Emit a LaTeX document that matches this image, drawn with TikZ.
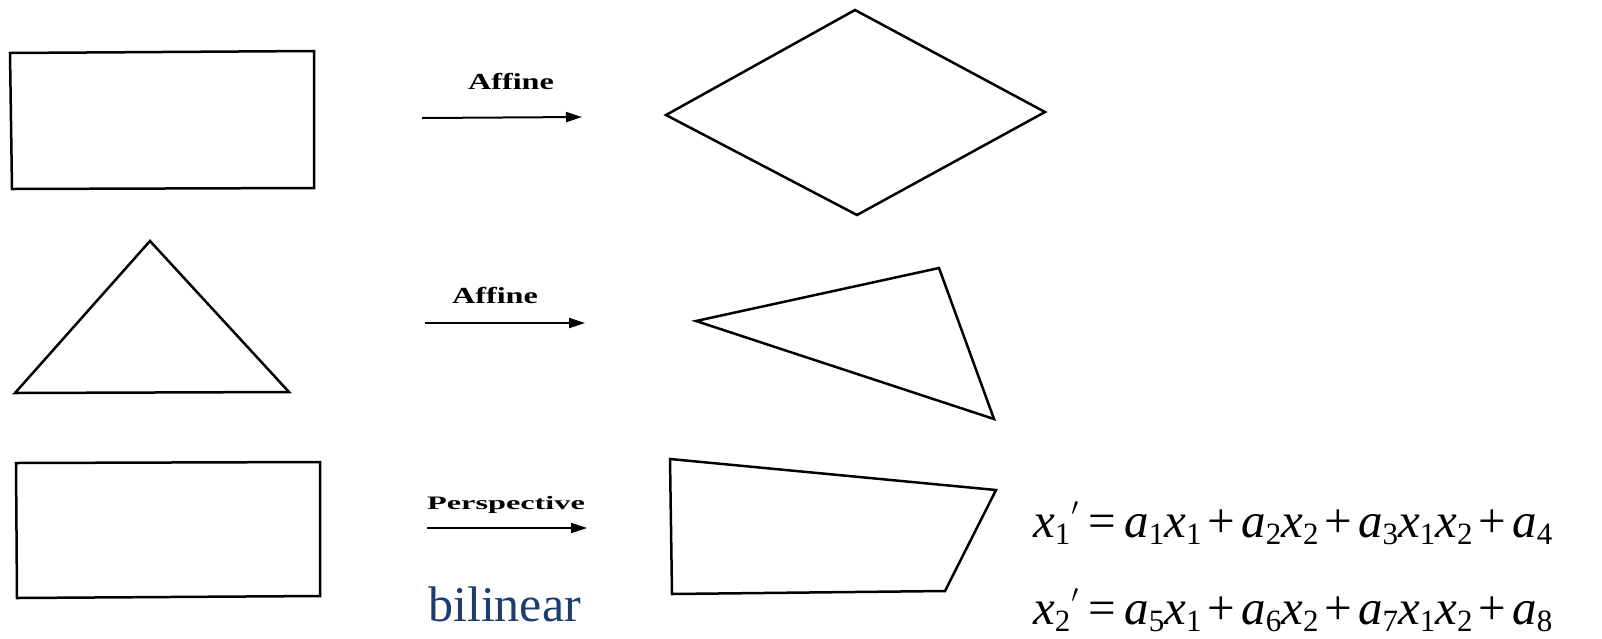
\documentclass[tikz,border=0pt]{standalone}
\usepackage{fontspec}
\setmainfont{Liberation Serif}
\usetikzlibrary{arrows.meta}
\definecolor{navyword}{RGB}{31,60,112}
\newcommand{\sbs}[1]{\raisebox{-7pt}{\fontsize{31}{31}\selectfont #1}}
\newcommand{\opr}[1]{\hspace{6pt}#1\hspace{6pt}}
\newcommand{\eqs}{\hspace{10pt}=\hspace{8pt}}
\newcommand{\prm}{\hspace{1pt}\raisebox{12pt}{\fontsize{58}{58}\selectfont$^{\prime}$}}
\begin{document}
\begin{tikzpicture}[x=1pt,y=-1pt,
  outline/.style={line width=2.5pt, line join=miter},
  maparrow/.style={line width=2pt, -{Triangle[length=16pt,width=10pt]}},
  maplabel/.style={font=\bfseries, anchor=base, inner sep=0pt},
  eqline/.style={font=\fontsize{49}{58}\selectfont, anchor=base west, inner sep=0pt}]
\useasboundingbox (0,0) rectangle (1602,638);

% row 1
\draw[outline] (10,53) -- (314,51) -- (314,188) -- (12,189) -- cycle;
\draw[outline] (666,115) -- (855,10) -- (1045,112) -- (857,215) -- cycle;
\coordinate (a1s) at (422,118);
\coordinate (a1e) at (582,117);
\draw[maparrow] (a1s) -- (a1e);
\node[maplabel] (l1) at (511,89) {\fontsize{23}{26}\selectfont\scalebox{1.4}[1]{Affine}};

% row 2
\draw[outline] (150,241) -- (289,392) -- (15,393) -- cycle;
\draw[outline] (696,321) -- (939,268) -- (994,419) -- cycle;
\coordinate (a2s) at (425,323);
\coordinate (a2e) at (585,323);
\draw[maparrow] (a2s) -- (a2e);
\node[maplabel] (l2) at (495,303) {\fontsize{23}{26}\selectfont\scalebox{1.4}[1]{Affine}};

% row 3
\draw[outline] (16,463) -- (320,462) -- (320,596) -- (17,598) -- cycle;
\draw[outline] (670,459) -- (996,490) -- (945,591) -- (672,594) -- cycle;
\coordinate (a3s) at (427,528);
\coordinate (a3e) at (587,528);
\draw[maparrow] (a3s) -- (a3e);
\node[maplabel] (l3) at (506,509) {\fontsize{19}{22}\selectfont\scalebox{1.7}[1]{Perspective}};
\node[anchor=base west, inner sep=0pt, text=navyword, font=\fontsize{50}{58}\selectfont] (bil) at (428,621) {bilinear};

% equations
\node[eqline] (eq1) at (1033,537) {\textit{x}\sbs{1}\prm\eqs\textit{a}\sbs{1}\textit{x}\sbs{1}\opr{+}\textit{a}\sbs{2}\textit{x}\sbs{2}\opr{+}\textit{a}\sbs{3}\textit{x}\sbs{1}\textit{x}\sbs{2}\opr{+}\textit{a}\sbs{4}};
\node[eqline] (eq2) at (1033,624) {\textit{x}\sbs{2}\prm\eqs\textit{a}\sbs{5}\textit{x}\sbs{1}\opr{+}\textit{a}\sbs{6}\textit{x}\sbs{2}\opr{+}\textit{a}\sbs{7}\textit{x}\sbs{1}\textit{x}\sbs{2}\opr{+}\textit{a}\sbs{8}};
\end{tikzpicture}
\end{document}
